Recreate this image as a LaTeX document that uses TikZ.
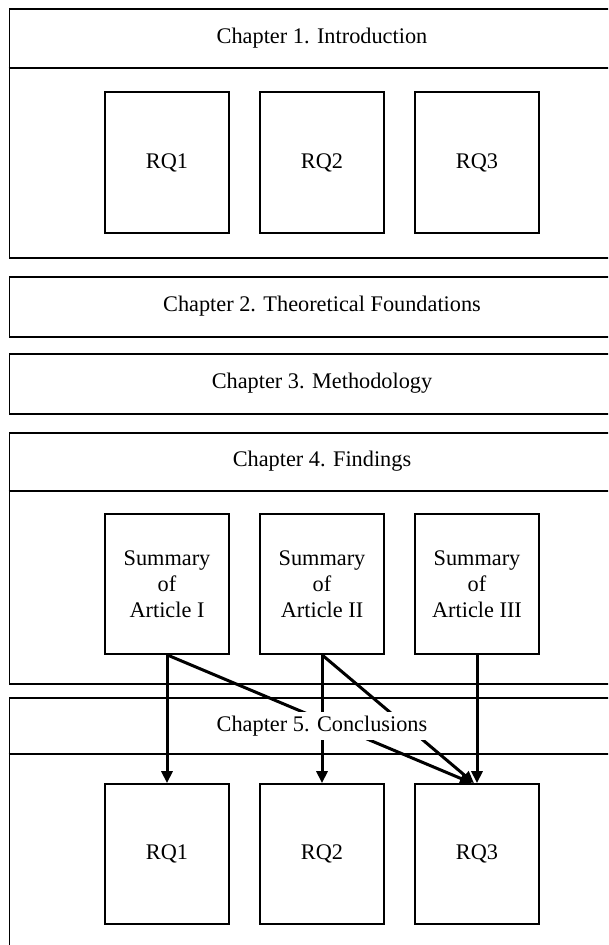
\documentclass[tikz,border=0pt]{standalone}
\usepackage{fontspec}
\setmainfont{Liberation Serif}
\usetikzlibrary{arrows.meta}
\begin{document}
\begin{tikzpicture}[x=1pt,y=-1pt,
  chapbox/.style={draw, line width=1.7pt, rectangle, inner sep=0pt, minimum width=626.6pt, anchor=north west},
  inbox/.style={draw, line width=1.7pt, rectangle, inner sep=0pt, minimum width=124pt, minimum height=141pt,
    font=\fontsize{22.3}{26}\selectfont, align=center},
  lbl/.style={font=\fontsize{22.3}{26}\selectfont, align=center, inner sep=0pt},
  divider/.style={line width=1.7pt},
  arr/.style={line width=3pt, -{Triangle[length=12pt,width=11pt]}}]
\clip (0,0) rectangle (608,945);
\fill[white] (0,0) rectangle (608,945);
% chapter frames
\node[chapbox, minimum height=249pt] (ch1) at (8.7,8) {};
\node[chapbox, minimum height=60pt] (ch2) at (8.7,276) {};
\node[chapbox, minimum height=60pt] (ch3) at (8.7,353) {};
\node[chapbox, minimum height=251pt] (ch4) at (8.7,432) {};
\node[chapbox, minimum height=320pt] (ch5) at (8.7,697) {};
% header dividers
\coordinate (d1) at (0,68);
\coordinate (d4) at (0,491);
\coordinate (d5) at (0,754);
\draw[divider] (ch1.west |- d1) -- (ch1.east |- d1);
\draw[divider] (ch4.west |- d4) -- (ch4.east |- d4);
\draw[divider] (ch5.west |- d5) -- (ch5.east |- d5);
% headers
\node[lbl] (t1) at (322,38) {Chapter 1. Introduction};
\node[lbl] (t2) at (322,306) {Chapter 2. Theoretical Foundations};
\node[lbl] (t3) at (322,383) {Chapter 3. Methodology};
\node[lbl] (t4) at (322,461) {Chapter 4. Findings};
% chapter 1 research questions
\node[inbox] (q1) at (167,162.5) {RQ1};
\node[inbox] (q2) at (322,162.5) {RQ2};
\node[inbox] (q3) at (477,162.5) {RQ3};
% chapter 4 summaries
\node[inbox, minimum height=140pt] (s1) at (167,584) {Summary\\of\\Article I};
\node[inbox, minimum height=140pt] (s2) at (322,584) {Summary\\of\\Article II};
\node[inbox, minimum height=140pt] (s3) at (477,584) {Summary\\of\\Article III};
% chapter 5 research questions
\node[inbox, minimum height=140pt] (r1) at (167,854) {RQ1};
\node[inbox, minimum height=140pt] (r2) at (322,854) {RQ2};
\node[inbox, minimum height=140pt] (r3) at (477,854) {RQ3};
% arrows
\draw[arr] (s1.south) -- (r1.north);
\draw[arr] (s2.south) -- (r2.north);
\draw[arr] (s3.south) -- (r3.north);
\draw[arr] (s1.south) -- ([xshift=-5pt]r3.north);
\draw[arr] (s2.south) -- ([xshift=-3pt]r3.north);
% chapter 5 header over the arrows
\node[lbl, fill=white, inner xsep=3pt, minimum height=28pt] (t5) at (322,726) {Chapter 5. Conclusions};
\end{tikzpicture}
\end{document}
